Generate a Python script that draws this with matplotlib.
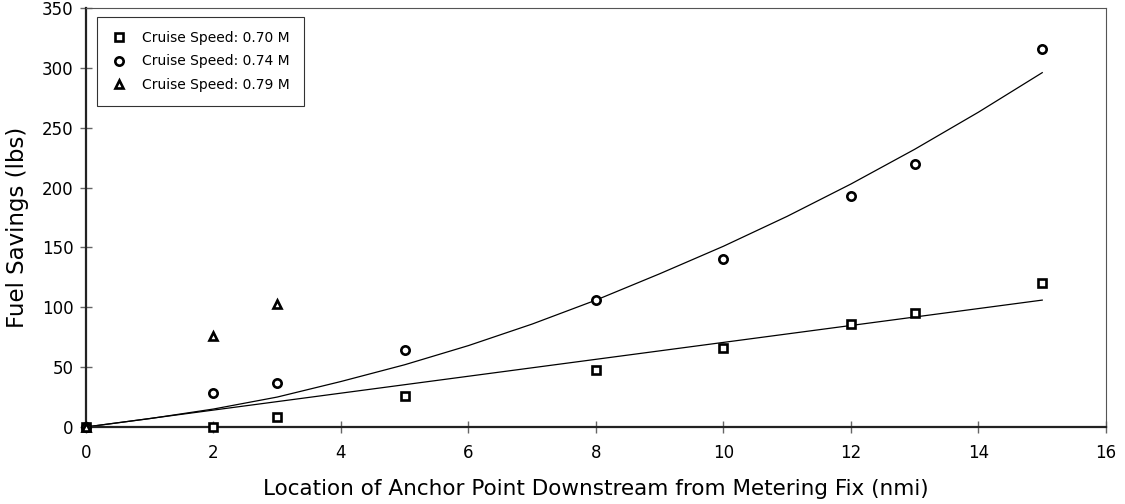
import numpy as np
import matplotlib
matplotlib.use("Agg")
import matplotlib.pyplot as plt

# measured points
x_070 = [0, 2, 3, 5, 8, 10, 12, 13, 15]
y_070 = [0, 0, 8, 26, 48, 66, 86, 95, 120]
x_074 = [0, 2, 3, 5, 8, 10, 12, 13, 15]
y_074 = [0, 28, 37, 64, 106, 140, 193, 220, 316]
x_079 = [0, 2, 3]
y_079 = [0, 76, 103]

# trend lines
trend70_x = [0, 15]
trend70_y = [0, 106]
trend74_x = [0, 1, 2, 3, 4, 5, 6, 7, 8, 9, 10, 11, 12, 13, 14, 15]
trend74_y = [0, 7, 15, 25, 38, 52, 68, 86, 106, 128, 151, 176, 203, 232, 263, 296]

plt.rcParams['font.family'] = ['DejaVu Sans']

fig = plt.figure(figsize=(11.25, 5.04), dpi=100)
ax = fig.add_axes([0.0764, 0.1528, 0.9067, 0.8313])

ax.plot(trend70_x, trend70_y, color='black', lw=0.9)
ax.plot(trend74_x, trend74_y, color='black', lw=0.9)

mk = dict(linestyle='none', mfc='white', mec='black', mew=1.9, ms=6, clip_on=False, zorder=5)
ax.plot(x_070, y_070, marker='s', label='Cruise Speed: 0.70 M', **mk)
ax.plot(x_074, y_074, marker='o', label='Cruise Speed: 0.74 M', **mk)
ax.plot(x_079, y_079, marker='^', label='Cruise Speed: 0.79 M', **mk)

ax.set_xlim(0, 16)
ax.set_ylim(0, 350)
ax.set_xticks(range(0, 17, 2))
ax.set_yticks(range(0, 351, 50))
ax.tick_params(direction='inout', length=8, width=1, color='#666666', labelsize=12)
ax.tick_params(axis='x', pad=8)
ax.tick_params(axis='y', pad=5)

for s in ['left', 'bottom']:
    ax.spines[s].set_linewidth(1.6)
    ax.spines[s].set_color('#222222')
for s in ['top', 'right']:
    ax.spines[s].set_linewidth(0.8)
    ax.spines[s].set_color('#555555')

ax.set_xlabel("Location of Anchor Point Downstream from Metering Fix (nmi)", fontsize=15.5, va='center')
ax.set_ylabel("Fuel Savings (lbs)", fontsize=16.5, va='center')
ax.xaxis.set_label_coords(0.5, -0.148)
ax.yaxis.set_label_coords(-0.067, 0.476)

leg = ax.legend(loc='upper left', bbox_to_anchor=(0.0105, 0.979), borderaxespad=0, fontsize=10,
                frameon=True, fancybox=False, edgecolor='black', borderpad=1.0,
                handletextpad=1.1, labelspacing=0.7, handlelength=1.2)
leg.get_frame().set_linewidth(0.8)

fig.savefig("out.png", dpi=100)
